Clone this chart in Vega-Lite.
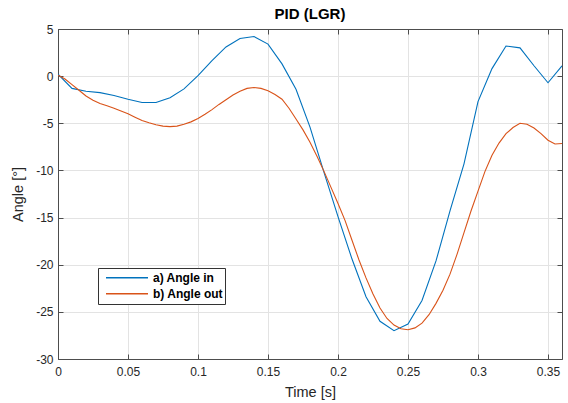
{
  "$schema": "https://vega.github.io/schema/vega-lite/v6.json",
  "width": 504,
  "height": 330,
  "autosize": {"type": "none"},
  "padding": {"left": 58, "top": 29, "right": 6, "bottom": 44},
  "background": "white",
  "title": {"text": "PID (LGR)", "fontSize": 15, "font": "Liberation Sans", "fontWeight": "bold", "color": "#000000", "offset": 1},
  "config": {
    "font": "Liberation Sans",
    "view": {"stroke": null},
    "axis": {
      "labelFont": "Liberation Sans", "labelFontSize": 12, "labelColor": "#262626",
      "titleFont": "Liberation Sans", "titleFontSize": 14.5, "titleFontWeight": "normal", "titleColor": "#262626",
      "domainColor": "#4d4d4d", "tickColor": "#4d4d4d", "gridColor": "#e3e3e3", "gridWidth": 1
    },
    "legend": {
      "orient": "none", "legendX": 40, "legendY": 239,
      "title": null,
      "strokeColor": "#333333", "fillColor": "white",
      "padding": 2, "symbolType": "stroke", "symbolSize": 1764, "symbolStrokeWidth": 1.5,
      "symbolOffset": 5, "labelOffset": 4, "clipHeight": 15.7, "rowPadding": 0,
      "labelFont": "Liberation Sans", "labelFontSize": 12, "labelFontWeight": "bold", "labelColor": "#000000"
    }
  },
  "data": {"values": [
    {"t": 0, "angle": 0.2, "series": "a) Angle in"},
    {"t": 0.01, "angle": -1.3, "series": "a) Angle in"},
    {"t": 0.02, "angle": -1.6, "series": "a) Angle in"},
    {"t": 0.03, "angle": -1.75, "series": "a) Angle in"},
    {"t": 0.04, "angle": -2.05, "series": "a) Angle in"},
    {"t": 0.05, "angle": -2.45, "series": "a) Angle in"},
    {"t": 0.06, "angle": -2.8, "series": "a) Angle in"},
    {"t": 0.07, "angle": -2.8, "series": "a) Angle in"},
    {"t": 0.08, "angle": -2.3, "series": "a) Angle in"},
    {"t": 0.09, "angle": -1.35, "series": "a) Angle in"},
    {"t": 0.1, "angle": 0.05, "series": "a) Angle in"},
    {"t": 0.11, "angle": 1.65, "series": "a) Angle in"},
    {"t": 0.12, "angle": 3.1, "series": "a) Angle in"},
    {"t": 0.13, "angle": 4.0, "series": "a) Angle in"},
    {"t": 0.14, "angle": 4.2, "series": "a) Angle in"},
    {"t": 0.15, "angle": 3.4, "series": "a) Angle in"},
    {"t": 0.16, "angle": 1.3, "series": "a) Angle in"},
    {"t": 0.17, "angle": -1.4, "series": "a) Angle in"},
    {"t": 0.18, "angle": -5.4, "series": "a) Angle in"},
    {"t": 0.19, "angle": -10.2, "series": "a) Angle in"},
    {"t": 0.2, "angle": -14.9, "series": "a) Angle in"},
    {"t": 0.21, "angle": -19.4, "series": "a) Angle in"},
    {"t": 0.22, "angle": -23.4, "series": "a) Angle in"},
    {"t": 0.23, "angle": -26.0, "series": "a) Angle in"},
    {"t": 0.24, "angle": -27.0, "series": "a) Angle in"},
    {"t": 0.25, "angle": -26.3, "series": "a) Angle in"},
    {"t": 0.26, "angle": -23.8, "series": "a) Angle in"},
    {"t": 0.27, "angle": -19.6, "series": "a) Angle in"},
    {"t": 0.28, "angle": -14.3, "series": "a) Angle in"},
    {"t": 0.29, "angle": -9.3, "series": "a) Angle in"},
    {"t": 0.3, "angle": -2.7, "series": "a) Angle in"},
    {"t": 0.31, "angle": 0.8, "series": "a) Angle in"},
    {"t": 0.32, "angle": 3.2, "series": "a) Angle in"},
    {"t": 0.33, "angle": 3.0, "series": "a) Angle in"},
    {"t": 0.34, "angle": 1.1, "series": "a) Angle in"},
    {"t": 0.35, "angle": -0.7, "series": "a) Angle in"},
    {"t": 0.36, "angle": 1.1, "series": "a) Angle in"},
    {"t": 0, "angle": 0.1, "series": "b) Angle out"},
    {"t": 0.005, "angle": -0.3, "series": "b) Angle out"},
    {"t": 0.01, "angle": -0.9, "series": "b) Angle out"},
    {"t": 0.015, "angle": -1.5, "series": "b) Angle out"},
    {"t": 0.02, "angle": -2.1, "series": "b) Angle out"},
    {"t": 0.025, "angle": -2.55, "series": "b) Angle out"},
    {"t": 0.03, "angle": -2.9, "series": "b) Angle out"},
    {"t": 0.035, "angle": -3.15, "series": "b) Angle out"},
    {"t": 0.04, "angle": -3.4, "series": "b) Angle out"},
    {"t": 0.045, "angle": -3.7, "series": "b) Angle out"},
    {"t": 0.05, "angle": -4.0, "series": "b) Angle out"},
    {"t": 0.055, "angle": -4.35, "series": "b) Angle out"},
    {"t": 0.06, "angle": -4.7, "series": "b) Angle out"},
    {"t": 0.065, "angle": -4.95, "series": "b) Angle out"},
    {"t": 0.07, "angle": -5.15, "series": "b) Angle out"},
    {"t": 0.075, "angle": -5.3, "series": "b) Angle out"},
    {"t": 0.08, "angle": -5.35, "series": "b) Angle out"},
    {"t": 0.085, "angle": -5.3, "series": "b) Angle out"},
    {"t": 0.09, "angle": -5.1, "series": "b) Angle out"},
    {"t": 0.095, "angle": -4.85, "series": "b) Angle out"},
    {"t": 0.1, "angle": -4.5, "series": "b) Angle out"},
    {"t": 0.105, "angle": -4.05, "series": "b) Angle out"},
    {"t": 0.11, "angle": -3.55, "series": "b) Angle out"},
    {"t": 0.115, "angle": -3.0, "series": "b) Angle out"},
    {"t": 0.12, "angle": -2.5, "series": "b) Angle out"},
    {"t": 0.125, "angle": -2.0, "series": "b) Angle out"},
    {"t": 0.13, "angle": -1.6, "series": "b) Angle out"},
    {"t": 0.135, "angle": -1.3, "series": "b) Angle out"},
    {"t": 0.14, "angle": -1.2, "series": "b) Angle out"},
    {"t": 0.145, "angle": -1.3, "series": "b) Angle out"},
    {"t": 0.15, "angle": -1.55, "series": "b) Angle out"},
    {"t": 0.155, "angle": -1.95, "series": "b) Angle out"},
    {"t": 0.16, "angle": -2.45, "series": "b) Angle out"},
    {"t": 0.165, "angle": -3.4, "series": "b) Angle out"},
    {"t": 0.17, "angle": -4.55, "series": "b) Angle out"},
    {"t": 0.175, "angle": -5.7, "series": "b) Angle out"},
    {"t": 0.18, "angle": -7.0, "series": "b) Angle out"},
    {"t": 0.185, "angle": -8.5, "series": "b) Angle out"},
    {"t": 0.19, "angle": -10.1, "series": "b) Angle out"},
    {"t": 0.195, "angle": -11.8, "series": "b) Angle out"},
    {"t": 0.2, "angle": -13.5, "series": "b) Angle out"},
    {"t": 0.205, "angle": -15.3, "series": "b) Angle out"},
    {"t": 0.21, "angle": -17.4, "series": "b) Angle out"},
    {"t": 0.215, "angle": -19.5, "series": "b) Angle out"},
    {"t": 0.22, "angle": -21.4, "series": "b) Angle out"},
    {"t": 0.225, "angle": -23.1, "series": "b) Angle out"},
    {"t": 0.23, "angle": -24.6, "series": "b) Angle out"},
    {"t": 0.235, "angle": -25.7, "series": "b) Angle out"},
    {"t": 0.24, "angle": -26.4, "series": "b) Angle out"},
    {"t": 0.245, "angle": -26.8, "series": "b) Angle out"},
    {"t": 0.25, "angle": -26.9, "series": "b) Angle out"},
    {"t": 0.255, "angle": -26.7, "series": "b) Angle out"},
    {"t": 0.26, "angle": -26.2, "series": "b) Angle out"},
    {"t": 0.265, "angle": -25.3, "series": "b) Angle out"},
    {"t": 0.27, "angle": -24.1, "series": "b) Angle out"},
    {"t": 0.275, "angle": -22.7, "series": "b) Angle out"},
    {"t": 0.28, "angle": -21.0, "series": "b) Angle out"},
    {"t": 0.285, "angle": -18.9, "series": "b) Angle out"},
    {"t": 0.29, "angle": -16.6, "series": "b) Angle out"},
    {"t": 0.295, "angle": -14.3, "series": "b) Angle out"},
    {"t": 0.3, "angle": -12.2, "series": "b) Angle out"},
    {"t": 0.305, "angle": -10.1, "series": "b) Angle out"},
    {"t": 0.31, "angle": -8.4, "series": "b) Angle out"},
    {"t": 0.315, "angle": -7.1, "series": "b) Angle out"},
    {"t": 0.32, "angle": -6.1, "series": "b) Angle out"},
    {"t": 0.325, "angle": -5.45, "series": "b) Angle out"},
    {"t": 0.33, "angle": -5.0, "series": "b) Angle out"},
    {"t": 0.335, "angle": -5.1, "series": "b) Angle out"},
    {"t": 0.34, "angle": -5.5, "series": "b) Angle out"},
    {"t": 0.345, "angle": -6.1, "series": "b) Angle out"},
    {"t": 0.35, "angle": -6.8, "series": "b) Angle out"},
    {"t": 0.355, "angle": -7.2, "series": "b) Angle out"},
    {"t": 0.36, "angle": -7.15, "series": "b) Angle out"}
  ]},
  "layer": [
    {
      "mark": {"type": "line", "strokeWidth": 1.1, "clip": true},
      "encoding": {
        "x": {"field": "t", "type": "quantitative",
              "scale": {"domain": [0, 0.36], "nice": false, "zero": false},
              "axis": {"orient": "bottom", "title": "Time [s]", "values": [0, 0.05, 0.1, 0.15, 0.2, 0.25, 0.3, 0.35],
                       "labelExpr": "'' + datum.value", "tickSize": -5, "labelPadding": 12, "titlePadding": 8, "grid": true, "labelFlush": false}},
        "y": {"field": "angle", "type": "quantitative",
              "scale": {"domain": [-30, 5], "nice": false, "zero": false},
              "axis": {"orient": "left", "title": "Angle [°]", "values": [-30, -25, -20, -15, -10, -5, 0, 5],
                       "labelExpr": "'' + datum.value", "tickSize": -5, "labelPadding": 10, "titlePadding": 10, "grid": true, "labelFlush": false}},
        "color": {"field": "series", "type": "nominal",
                  "scale": {"domain": ["a) Angle in", "b) Angle out"], "range": ["#0072BD", "#D95319"]},
                  "legend": {"title": null}}
      }
    },
    {
      "mark": {"type": "line", "strokeOpacity": 0},
      "encoding": {
        "x": {"field": "t", "type": "quantitative",
              "axis": {"orient": "top", "title": null, "labels": false, "grid": false, "tickSize": -5, "values": [0, 0.05, 0.1, 0.15, 0.2, 0.25, 0.3, 0.35]}},
        "y": {"field": "angle", "type": "quantitative",
              "axis": {"orient": "right", "title": null, "labels": false, "grid": false, "tickSize": -5, "values": [-30, -25, -20, -15, -10, -5, 0, 5]}},
        "detail": {"field": "series"}
      }
    }
  ],
  "resolve": {"axis": {"x": "independent", "y": "independent"}}
}
